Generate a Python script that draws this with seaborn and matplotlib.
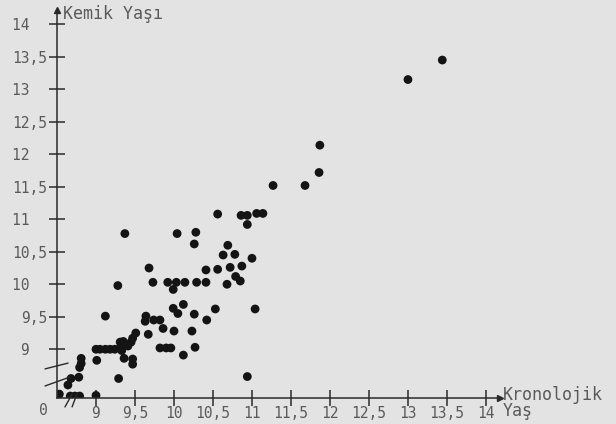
import matplotlib
matplotlib.use("Agg")
import matplotlib.pyplot as plt
import seaborn as sns
import pandas as pd

# Chronological age vs bone age
kronolojik_yas = [
    13.44, 13.00, 11.87, 11.86, 11.68, 11.27,
    10.56, 10.86, 10.94, 11.06, 11.14, 10.94,
    10.04, 10.28, 9.37, 10.26, 10.69, 10.63, 10.78, 11.00,
    9.68, 10.41, 10.56, 10.72, 10.87, 10.79, 10.85, 10.68,
    9.73, 9.92, 10.03, 10.14, 10.29, 10.41, 9.28, 9.99,
    10.12, 9.99, 10.05, 10.26, 10.53, 11.04, 9.12,
    9.64, 9.63, 9.74, 9.82, 10.42, 9.86, 10.00, 10.23, 9.67,
    9.82, 9.90, 9.96, 10.27, 10.12, 10.94,
    9.51, 9.47, 9.45, 9.41, 9.00, 9.05, 9.12, 9.18, 9.24, 9.31,
    9.31, 9.35, 9.33, 9.01, 9.36, 9.47, 9.47, 9.29,
    8.81, 8.81, 8.79, 8.78, 8.68, 8.64,
    8.53, 8.67, 8.73, 8.79, 9.00,
]
kemik_yasi = [
    13.45, 13.15, 12.14, 11.72, 11.52, 11.52,
    11.08, 11.06, 11.06, 11.09, 11.09, 10.92,
    10.78, 10.80, 10.78, 10.62, 10.60, 10.45, 10.46, 10.40,
    10.25, 10.22, 10.23, 10.26, 10.28, 10.12, 10.05, 10.00,
    10.03, 10.03, 10.03, 10.03, 10.03, 10.03, 9.98, 9.92,
    9.69, 9.63, 9.55, 9.54, 9.62, 9.62, 9.51,
    9.51, 9.43, 9.45, 9.45, 9.45, 9.32, 9.28, 9.28, 9.23,
    9.02, 9.02, 9.02, 9.03, 8.91, 8.58,
    9.25, 9.17, 9.11, 9.05, 9.00, 9.00, 9.00, 9.00, 9.00, 9.02,
    9.11, 9.12, 8.98, 8.83, 8.86, 8.85, 8.77, 8.55,
    8.86, 8.78, 8.72, 8.57, 8.55, 8.45,
    8.31, 8.28, 8.28, 8.28, 8.29,
]

tick_values = [9, 9.5, 10, 10.5, 11, 11.5, 12, 12.5, 13, 13.5, 14]
x_tick_labels = ["9", "9,5", "10", "10,5", "11", "11,5", "12", "12,5", "13", "13,5", "14"]
y_tick_labels = ["9  ", "9,5", "10  ", "10,5", "11  ", "11,5", "12  ", "12,5", "13  ", "13,5", "14  "]

df = pd.DataFrame({"Kronolojik Yaş": kronolojik_yas, "Kemik Yaşı": kemik_yasi})

bg = "#e3e3e3"
ink = "#2a2a2a"
text_col = "#5a5a5a"

sns.set_theme(style="ticks")
plt.rcParams["font.family"] = ["DejaVu Sans Mono", "DejaVu Sans"]

fig = plt.figure(figsize=(6.16, 4.24), dpi=100, facecolor=bg)
ax = fig.add_axes([57 / 616, 26 / 424, 443 / 616, 388 / 424], facecolor=bg)

sns.scatterplot(data=df, x="Kronolojik Yaş", y="Kemik Yaşı", ax=ax,
                color="#141414", s=40, edgecolor="none", legend=False)

ax.set_xlim(8.5, 14.18)
ax.set_ylim(8.25, 14.22)
ax.set_xticks(tick_values)
ax.set_xticklabels(x_tick_labels)
ax.set_yticks(tick_values)
ax.set_yticklabels(y_tick_labels)
ax.set_xlabel("")
ax.set_ylabel("")

for side in ["top", "right"]:
    ax.spines[side].set_visible(False)
for side in ["left", "bottom"]:
    ax.spines[side].set_color(ink)
    ax.spines[side].set_linewidth(1.1)

ax.tick_params(axis="both", direction="inout", length=12, width=1.1,
               color=ink, labelcolor=text_col, labelsize=10.5)
ax.tick_params(axis="y", pad=1)
ax.tick_params(axis="x", pad=0)

# arrow heads on both axes
ax.plot(1, 0, ">", color=ink, markersize=4, transform=ax.transAxes, clip_on=False)
ax.plot(0, 1, "^", color=ink, markersize=4, transform=ax.transAxes, clip_on=False)

# axis break marks
brk = dict(color=ink, lw=1.0, transform=ax.transAxes, clip_on=False)
ax.plot([-0.027, 0.025], [0.075, 0.090], **brk)
ax.plot([-0.027, 0.029], [0.031, 0.054], **brk)
ax.plot([0.018, 0.034], [-0.023, 0.010], **brk)
ax.plot([0.034, 0.045], [-0.023, 0.010], **brk)

ax.text(-0.022, -0.012, "0", transform=ax.transAxes, ha="right", va="top",
        color=text_col, fontsize=10.5)
ax.text(0.014, 0.99, "Kemik Yaşı", transform=ax.transAxes, ha="left", va="center",
        color=text_col, fontsize=12)
ax.text(1.007, -0.013, "Kronolojik\nYaş", transform=ax.transAxes, ha="left",
        va="center", color=text_col, fontsize=12, linespacing=0.9)

fig.savefig("out.png", dpi=100, facecolor=bg)
